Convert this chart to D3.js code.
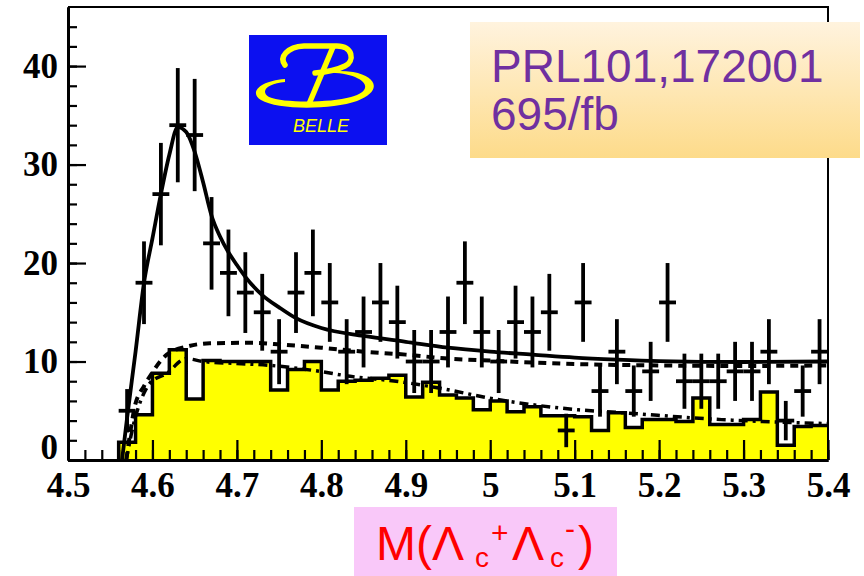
<!DOCTYPE html>
<html>
<head>
<meta charset="utf-8">
<script src="https://cdn.jsdelivr.net/npm/d3@7"></script>
<style>
  body { margin: 0; background: #fff; }
  svg { display: block; }
</style>
</head>
<body>
<svg width="864" height="576"></svg>
<script>
// bin centres of M(Lc+ Lc-) in GeV/c2, bins are 0.02 wide
let binCenters = [4.57, 4.59, 4.61, 4.63, 4.65, 4.67, 4.69, 4.71, 4.73, 4.75,
  4.77, 4.79, 4.81, 4.83, 4.85, 4.87, 4.89, 4.91, 4.93, 4.95,
  4.97, 4.99, 5.01, 5.03, 5.05, 5.07, 5.09, 5.11, 5.13, 5.15,
  5.17, 5.19, 5.21, 5.23, 5.25, 5.27, 5.29, 5.31, 5.33, 5.35,
  5.37, 5.39];
let binWidth = 0.02;

// data points (events / bin) and their error bars
let dataCounts = [5, 18, 27, 34, 33, 22, 19, 17, 15, 11,
  17, 19, 16, 11, 13, 16, 14, 10, 10, 13,
  18, 13, 10, 14, 13, 15, 3, 16, 7, 11,
  7, 9, 16, 8, 8, 8, 9, 9, 11, 4,
  7, 11];
let dataErrors = [2.2, 4.2, 5.2, 5.8, 5.7, 4.7, 4.4, 4.1, 3.9, 3.3,
  4.1, 4.4, 4.0, 3.3, 3.6, 4.0, 3.7, 3.2, 3.2, 3.6,
  4.2, 3.6, 3.2, 3.7, 3.6, 3.9, 1.7, 4.0, 2.6, 3.3,
  2.6, 3.0, 4.0, 2.8, 2.8, 2.8, 3.0, 3.0, 3.3, 2.0,
  2.6, 3.3];

// yellow histogram (sidebands)
let sideband = [1.8, 4.6, 8.8, 11.2, 6.2, 10.1, 10.0, 10.0, 10.0, 7.1,
  9.2, 10.0, 7.1, 8.0, 8.1, 8.3, 8.6, 6.4, 7.9, 6.6,
  6.3, 5.1, 6.0, 4.9, 5.4, 4.5, 4.5, 4.4, 3.0, 4.8,
  3.3, 4.1, 4.1, 3.9, 6.3, 3.6, 3.6, 4.1, 6.9, 1.5,
  3.4, 3.5];

// solid line: total fit
let fitMass = [4.564, 4.57, 4.58, 4.59, 4.60, 4.61, 4.62, 4.63, 4.64, 4.65,
  4.66, 4.67, 4.68, 4.69, 4.70, 4.71, 4.73, 4.75, 4.77, 4.80,
  4.85, 4.90, 4.95, 5.00, 5.05, 5.10, 5.15, 5.20, 5.30, 5.40];
let fitTotal = [0, 4.3, 11, 18, 22.5, 27, 31, 33.8, 33.3, 31.3,
  28.2, 24.8, 22.7, 21.1, 19.8, 18.6, 16.75, 15.5, 14.4, 13.4,
  12.6, 12.0, 11.4, 11.0, 10.7, 10.4, 10.2, 10.05, 9.95, 10.0];

// dashed line: background
let bkgMass = [4.569, 4.575, 4.579, 4.59, 4.597, 4.617, 4.64, 4.668, 4.716, 4.755,
  4.80, 4.85, 4.90, 4.95, 5.00, 5.05, 5.10, 5.20, 5.30, 5.40];
let bkgFit = [0, 3.5, 5.4, 7.5, 8.5, 10.7, 11.5, 11.85, 11.9, 11.7,
  11.4, 11.0, 10.7, 10.3, 10.1, 9.9, 9.75, 9.6, 9.55, 9.6];

// dash-dot line: sideband shape
let sbMass = [4.569, 4.577, 4.59, 4.597, 4.617, 4.64, 4.66, 4.70, 4.74, 4.79,
  4.834, 4.893, 4.952, 4.992, 5.051, 5.104, 5.156, 5.274, 5.40];
let sbFit = [0, 3.4, 6.8, 7.8, 8.8, 10.3, 10.0, 9.8, 9.6, 9.1,
  8.5, 7.95, 7.1, 6.4, 5.6, 5.1, 4.8, 4.1, 3.7];

// axis ticks
let xTicks = [4.5, 4.6, 4.7, 4.8, 4.9, 5.0, 5.1, 5.2, 5.3, 5.4];
let xTickLabels = ["4.5", "4.6", "4.7", "4.8", "4.9", "5", "5.1", "5.2", "5.3", "5.4"];
let yTicks = [0, 10, 20, 30, 40];
let yTickLabels = ["0", "10", "20", "30", "40"];

let svg = d3.select("svg");
let x = d3.scaleLinear().domain([4.5, 5.4]).range([68, 828]);
let y = d3.scaleLinear().domain([0, 46]).range([460, 7]);

// HISTOGRAM
let histPts = [{ m: binCenters[0] - binWidth / 2, v: 0 }];
binCenters.forEach(function(c, i) {
  histPts.push({ m: c - binWidth / 2, v: sideband[i] });
});
histPts.push({ m: binCenters[binCenters.length - 1] + binWidth / 2, v: sideband[sideband.length - 1] });

svg.append("path")
  .datum(histPts)
  .attr("fill", "#ffff00")
  .attr("d", d3.area()
    .x(d => x(d.m))
    .y0(y(0))
    .y1(d => y(d.v))
    .curve(d3.curveStepAfter));
svg.append("path")
  .datum(histPts)
  .attr("fill", "none")
  .attr("stroke", "#000")
  .attr("stroke-width", 3.5)
  .attr("d", d3.line()
    .x(d => x(d.m))
    .y(d => y(d.v))
    .curve(d3.curveStepAfter));

// CURVES
function drawCurve(ms, vs, dash, width) {
  let pts = ms.map((m, i) => [m, vs[i]]);
  svg.append("path")
    .datum(pts)
    .attr("fill", "none")
    .attr("stroke", "#000")
    .attr("stroke-width", width)
    .attr("stroke-dasharray", dash)
    .attr("d", d3.line()
      .x(d => x(d[0]))
      .y(d => y(d[1]))
      .curve(d3.curveMonotoneX));
}
drawCurve(sbMass, sbFit, "9,5,3,5", 3.5);
drawCurve(bkgMass, bkgFit, "8,6", 4);
drawCurve(fitMass, fitTotal, null, 3.8);

// DATA POINTS
let pts = svg.append("g").attr("stroke", "#000").attr("stroke-width", 3.8);
pts.selectAll(".ebar")
  .data(binCenters)
  .enter()
  .append("line")
  .attr("class", "ebar")
  .attr("x1", d => x(d))
  .attr("x2", d => x(d))
  .attr("y1", (d, i) => y(dataCounts[i] - dataErrors[i]))
  .attr("y2", (d, i) => y(dataCounts[i] + dataErrors[i]));
pts.selectAll(".xbar")
  .data(binCenters)
  .enter()
  .append("line")
  .attr("class", "xbar")
  .attr("x1", d => x(d - binWidth / 2))
  .attr("x2", d => x(d + binWidth / 2))
  .attr("y1", (d, i) => y(dataCounts[i]))
  .attr("y2", (d, i) => y(dataCounts[i]));

// AXES
function styleAxis(g) {
  g.attr("font-family", "'Liberation Serif', 'Times New Roman', serif")
    .attr("font-size", 35)
    .attr("font-weight", "bold");
  g.selectAll(".tick line").attr("stroke-width", 2.2);
  g.selectAll("path.domain").attr("stroke-width", 3);
}

svg.append("g")
  .attr("transform", "translate(0," + y(0) + ")")
  .call(d3.axisBottom(x).tickValues(d3.range(4.5, 5.401, 0.02)).tickSize(-10).tickSizeOuter(0).tickFormat(""))
  .call(styleAxis);
svg.append("g")
  .attr("transform", "translate(0," + y(0) + ")")
  .call(d3.axisBottom(x).tickValues(xTicks).tickSize(-20).tickSizeOuter(0).tickPadding(12)
    .tickFormat((d, i) => xTickLabels[i]))
  .call(styleAxis);

svg.append("g")
  .attr("transform", "translate(" + x(4.5) + ",0)")
  .call(d3.axisLeft(y).tickValues(d3.range(0, 46, 2)).tickSize(-9).tickSizeOuter(0).tickFormat(""))
  .call(styleAxis);
let yAxis = svg.append("g")
  .attr("transform", "translate(" + x(4.5) + ",0)")
  .call(d3.axisLeft(y).tickValues(yTicks).tickSize(-18).tickSizeOuter(0).tickPadding(10)
    .tickFormat((d, i) => yTickLabels[i]))
  .call(styleAxis);
// the "0" sits a bit higher, just above the 4.5 label
yAxis.selectAll(".tick text").filter(d => d === 0).attr("dy", "-0.05em");

// frame top / right
svg.append("path")
  .attr("fill", "none")
  .attr("stroke", "#000")
  .attr("stroke-width", 2)
  .attr("d", "M" + x(4.5) + "," + y(46) + "H" + x(5.4) + "V" + y(0));

// BELLE LOGO
let logo = svg.append("g").attr("transform", "translate(249,35)");
logo.append("rect").attr("width", 138).attr("height", 110).attr("fill", "#0c10f0");
logo.append("path")
  .attr("fill", "none").attr("stroke", "#ffff00").attr("stroke-width", 5.5)
  .attr("stroke-linecap", "round")
  .attr("d", "M36,30 C30,22 38,12 55,11 L88,11 C104,11 106,26 96,31 C88,35 78,37 66,38");
logo.append("path")
  .attr("fill", "#ffff00").attr("fill-rule", "evenodd")
  .attr("d", "M36,44 C10,46 0,58 12,65 C28,75 82,75 108,66 C132,57 130,42 104,37 C92,35 80,36 70,38 C82,37 98,38 106,42 C122,49 118,58 102,62 C80,68 34,68 20,62 C10,56 20,48 36,47 Z");
logo.append("path")
  .attr("fill", "none").attr("stroke", "#ffff00").attr("stroke-width", 5.5)
  .attr("d", "M84,12 L60,69");
logo.append("text")
  .attr("x", 44).attr("y", 97)
  .attr("font-family", "'Liberation Sans', Arial, sans-serif")
  .attr("font-style", "italic")
  .attr("font-size", 18)
  .attr("fill", "#ffff00")
  .text("BELLE");

// PRL BOX
let defs = svg.append("defs");
let grad = defs.append("linearGradient").attr("id", "prlGrad").attr("x1", 0).attr("y1", 0).attr("x2", 0).attr("y2", 1);
grad.append("stop").attr("offset", "0%").attr("stop-color", "#fff3de");
grad.append("stop").attr("offset", "100%").attr("stop-color", "#fddb8a");
svg.append("rect")
  .attr("x", 470).attr("y", 22).attr("width", 390).attr("height", 136)
  .attr("fill", "url(#prlGrad)");
let prl = svg.append("text")
  .attr("font-family", "'Liberation Sans', Arial, sans-serif")
  .attr("font-size", 46)
  .attr("fill", "#7030a0");
prl.append("tspan").attr("x", 491).attr("y", 82).text("PRL101,172001");
prl.append("tspan").attr("x", 491).attr("y", 130).text("695/fb");

// X TITLE
svg.append("rect")
  .attr("x", 354).attr("y", 507).attr("width", 263).attr("height", 69)
  .attr("fill", "#f9c8f9");
let title = svg.append("text")
  .attr("font-family", "'Liberation Sans', Arial, sans-serif")
  .attr("fill", "#ff0000")
  .attr("font-size", 48);
title.append("tspan").attr("x", 376).attr("y", 560).text("M(Λ");
title.append("tspan").attr("x", 475).attr("y", 567).attr("font-size", 28).text("c");
title.append("tspan").attr("x", 491).attr("y", 543).attr("font-size", 30).text("+");
title.append("tspan").attr("x", 512).attr("y", 560).text("Λ");
title.append("tspan").attr("x", 550).attr("y", 567).attr("font-size", 28).text("c");
title.append("tspan").attr("x", 565).attr("y", 539).attr("font-size", 30).text("-");
title.append("tspan").attr("x", 578).attr("y", 560).text(")");
</script>
</body>
</html>
